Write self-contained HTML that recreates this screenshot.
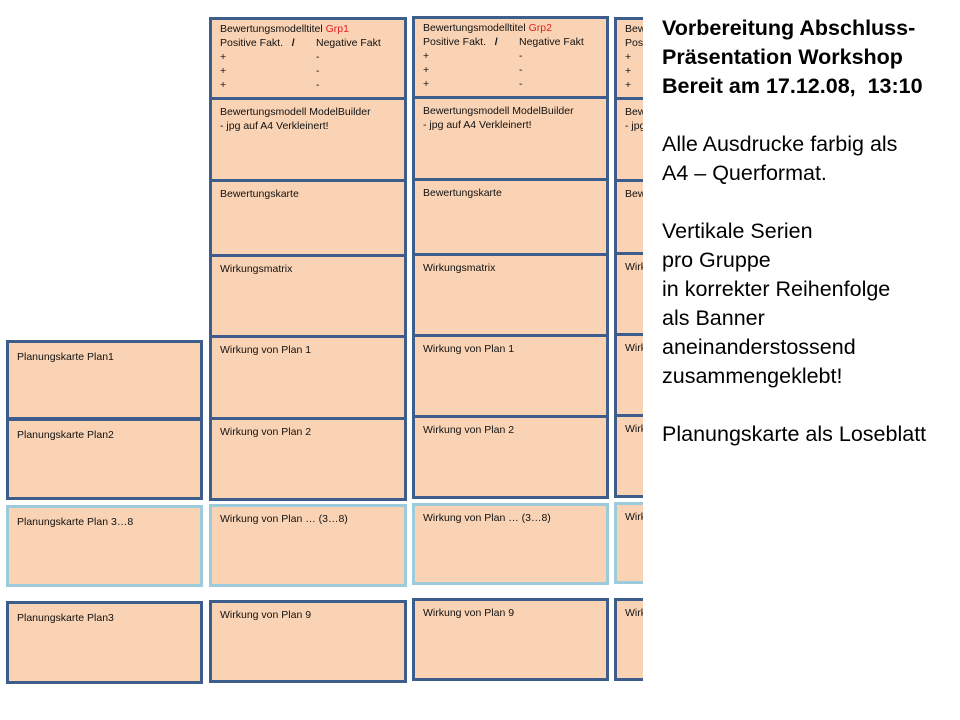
<!DOCTYPE html>
<html><head><meta charset="utf-8"><style>
body{margin:0;width:960px;height:720px;background:#fff;position:relative;overflow:hidden;font-family:"Liberation Sans",sans-serif}
.b{position:absolute;background:#fad3b4;border:3px solid #3d5e8c;box-sizing:border-box;font-size:10.5px;color:#111;padding:5px 0 0 8px;line-height:14px;white-space:pre;overflow:hidden}
.t{padding-top:2px;line-height:14px}
.c{display:inline-block;width:96px}
.l{border-color:#9ccbdc}
.r{color:#e02020}
#clip{position:absolute;left:0;top:0;width:643px;height:720px;overflow:hidden}
#t{position:absolute;left:662px;top:14px;font-size:21.5px;line-height:29px;color:#000;white-space:pre}
</style></head><body>
<div id="clip">
<div class="b" style="left:6px;top:340px;width:197px;height:80px;padding-top:7px">Planungskarte Plan1</div>
<div class="b" style="left:6px;top:418px;width:197px;height:82px;padding-top:7px">Planungskarte Plan2</div>
<div class="b l" style="left:6px;top:505px;width:197px;height:82px;padding-top:7px">Planungskarte Plan 3…8</div>
<div class="b" style="left:6px;top:601px;width:197px;height:83px;padding-top:7px">Planungskarte Plan3</div>

<div class="b t" style="left:209px;top:17px;width:198px;height:83px">Bewertungsmodelltitel <span class="r">Grp1</span>
<span class="c">Positive Fakt.   <b>/</b></span>Negative Fakt
<span class="c">+</span>-
<span class="c">+</span>-
<span class="c">+</span>-</div>
<div class="b" style="left:209px;top:97px;width:198px;height:85px">Bewertungsmodell ModelBuilder
- jpg auf A4 Verkleinert!</div>
<div class="b" style="left:209px;top:179px;width:198px;height:78px">Bewertungskarte</div>
<div class="b" style="left:209px;top:254px;width:198px;height:84px">Wirkungsmatrix</div>
<div class="b" style="left:209px;top:335px;width:198px;height:85px">Wirkung von Plan 1</div>
<div class="b" style="left:209px;top:417px;width:198px;height:84px">Wirkung von Plan 2</div>
<div class="b l" style="left:209px;top:504px;width:198px;height:83px">Wirkung von Plan … (3…8)</div>
<div class="b" style="left:209px;top:600px;width:198px;height:83px">Wirkung von Plan 9</div>

<div class="b t" style="left:412px;top:16px;width:197px;height:83px">Bewertungsmodelltitel <span class="r">Grp2</span>
<span class="c">Positive Fakt.   <b>/</b></span>Negative Fakt
<span class="c">+</span>-
<span class="c">+</span>-
<span class="c">+</span>-</div>
<div class="b" style="left:412px;top:96px;width:197px;height:85px">Bewertungsmodell ModelBuilder
- jpg auf A4 Verkleinert!</div>
<div class="b" style="left:412px;top:178px;width:197px;height:78px">Bewertungskarte</div>
<div class="b" style="left:412px;top:253px;width:197px;height:84px">Wirkungsmatrix</div>
<div class="b" style="left:412px;top:334px;width:197px;height:84px">Wirkung von Plan 1</div>
<div class="b" style="left:412px;top:415px;width:197px;height:84px">Wirkung von Plan 2</div>
<div class="b l" style="left:412px;top:503px;width:197px;height:82px">Wirkung von Plan … (3…8)</div>
<div class="b" style="left:412px;top:598px;width:197px;height:83px">Wirkung von Plan 9</div>

<div class="b t" style="left:614px;top:17px;width:197px;height:83px">Bewertungsmodelltitel
Positive Fakt.
+
+
+</div>
<div class="b" style="left:614px;top:97px;width:197px;height:85px">Bewertungsmodell ModelBuilder
- jpg auf A4</div>
<div class="b" style="left:614px;top:179px;width:197px;height:76px">Bewertungskarte</div>
<div class="b" style="left:614px;top:252px;width:197px;height:84px">Wirkungsmatrix</div>
<div class="b" style="left:614px;top:333px;width:197px;height:84px">Wirkung</div>
<div class="b" style="left:614px;top:414px;width:197px;height:84px">Wirkung</div>
<div class="b l" style="left:614px;top:502px;width:197px;height:82px">Wirkung</div>
<div class="b" style="left:614px;top:598px;width:197px;height:83px">Wirkung</div>
</div>
<div id="t"><b>Vorbereitung Abschluss-
Präsentation Workshop
Bereit am 17.12.08,  13:10</b>

Alle Ausdrucke farbig als
A4 – Querformat.

Vertikale Serien
pro Gruppe
in korrekter Reihenfolge
als Banner
aneinanderstossend
zusammengeklebt!

Planungskarte als Loseblatt</div>
</body></html>
